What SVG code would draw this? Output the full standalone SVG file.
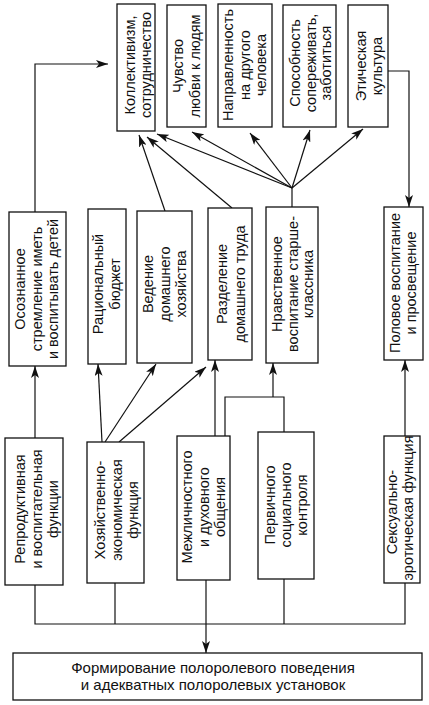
<svg xmlns="http://www.w3.org/2000/svg" width="429" height="705" viewBox="0 0 429 705">
<style>
.b{fill:#fff;stroke:#111;stroke-width:1.3}
.v{font-family:"Liberation Sans",Arial,sans-serif;font-size:14.5px;fill:#111;text-anchor:middle}
.h{font-family:"Liberation Sans",Arial,sans-serif;font-size:15px;fill:#111;text-anchor:middle}
.c{fill:none;stroke:#111;stroke-width:1.2}
.a{marker-end:url(#ah)}
</style>
<defs>
<marker id="ah" viewBox="0 0 12 8" refX="12" refY="4" markerWidth="12" markerHeight="8" markerUnits="userSpaceOnUse" orient="auto">
<path d="M0,0 L12,4 L0,8 L3,4 z" fill="#111"/>
</marker>
</defs>
<rect width="429" height="705" fill="#fff"/>

<g id="connectors">
<polyline class="c a" points="35,212 35,64 108,64"/>
<polyline class="c a" points="388,71 409,71 409,207"/>
<line class="c" x1="292" y1="207" x2="292" y2="188"/>
<line class="c a" x1="292" y1="188" x2="157" y2="134"/>
<line class="c a" x1="292" y1="188" x2="192" y2="132"/>
<line class="c a" x1="292" y1="188" x2="250" y2="133"/>
<line class="c a" x1="292" y1="188" x2="310" y2="130"/>
<line class="c a" x1="292" y1="188" x2="363" y2="129"/>
<line class="c a" x1="165" y1="211" x2="139" y2="135"/>
<line class="c a" x1="232" y1="208" x2="147" y2="137"/>
<line class="c a" x1="35" y1="438" x2="35" y2="366"/>
<line class="c a" x1="102" y1="442" x2="98" y2="364"/>
<line class="c a" x1="105" y1="442" x2="156" y2="364"/>
<line class="c a" x1="119" y1="442" x2="206" y2="367"/>
<line class="c a" x1="215" y1="436" x2="215" y2="360"/>
<polyline class="c" points="225,436 225,397 284,397 284,432"/>
<line class="c a" x1="273" y1="397" x2="273" y2="363"/>
<line class="c a" x1="405" y1="436" x2="405" y2="360"/>
<polyline class="c" points="35,585 35,624 405,624 405,583"/>
<line class="c" x1="115" y1="583" x2="115" y2="624"/>
<line class="c" x1="284" y1="579" x2="284" y2="624"/>
<line class="c a" x1="206" y1="580" x2="206" y2="653"/>
</g>

<g id="n-kollektivizm">
<rect class="b" x="117" y="4" width="38" height="127"/>
<text class="v" transform="translate(0,65) rotate(-90)"><tspan x="0" y="135">Коллективизм,</tspan><tspan x="0" y="151">сотрудничество</tspan></text>
</g>
<g id="n-chuvstvo">
<rect class="b" x="167" y="5" width="39" height="122"/>
<text class="v" transform="translate(0,66) rotate(-90)"><tspan x="0" y="183">Чувство</tspan><tspan x="0" y="200">любви к людям</tspan></text>
</g>
<g id="n-napravlennost">
<rect class="b" x="218" y="4" width="54" height="123"/>
<text class="v" transform="translate(0,65) rotate(-90)"><tspan x="0" y="233">Направленность</tspan><tspan x="0" y="250">на другого</tspan><tspan x="0" y="266">человека</tspan></text>
</g>
<g id="n-sposobnost">
<rect class="b" x="283" y="5" width="53" height="122"/>
<text class="v" transform="translate(0,63) rotate(-90)"><tspan x="0" y="300">Способность</tspan><tspan x="0" y="316">сопереживать,</tspan><tspan x="0" y="331">заботиться</tspan></text>
</g>
<g id="n-etika">
<rect class="b" x="348" y="5" width="40" height="122"/>
<text class="v" transform="translate(0,66) rotate(-90)"><tspan x="0" y="366">Этическая</tspan><tspan x="0" y="382">культура</tspan></text>
</g>

<g id="n-osoznannoe">
<rect class="b" x="9" y="212" width="57" height="154"/>
<text class="v" transform="translate(0,289) rotate(-90)"><tspan x="0" y="25">Осознанное</tspan><tspan x="0" y="41.5">стремление иметь</tspan><tspan x="0" y="58">и воспитывать детей</tspan></text>
</g>
<g id="n-byudzhet">
<rect class="b" x="88" y="209" width="38" height="155"/>
<text class="v" transform="translate(0,284) rotate(-90)"><tspan x="0" y="103">Рациональный</tspan><tspan x="0" y="120">бюджет</tspan></text>
</g>
<g id="n-vedenie">
<rect class="b" x="137" y="211" width="55" height="152"/>
<text class="v" transform="translate(0,284) rotate(-90)"><tspan x="0" y="153">Ведение</tspan><tspan x="0" y="170">домашнего</tspan><tspan x="0" y="186">хозяйства</tspan></text>
</g>
<g id="n-razdelenie">
<rect class="b" x="208" y="208" width="44" height="152"/>
<text class="v" transform="translate(0,284) rotate(-90)"><tspan x="0" y="227">Разделение</tspan><tspan x="0" y="245">домашнего труда</tspan></text>
</g>
<g id="n-nravstvennoe">
<rect class="b" x="266" y="207" width="52" height="156"/>
<text class="v" transform="translate(0,284) rotate(-90)"><tspan x="0" y="282">Нравственное</tspan><tspan x="0" y="297.5">воспитание старше-</tspan><tspan x="0" y="313">классника</tspan></text>
</g>
<g id="n-polovoe">
<rect class="b" x="384" y="207" width="39" height="153"/>
<text class="v" transform="translate(0,283) rotate(-90)"><tspan x="0" y="400">Половое воспитание</tspan><tspan x="0" y="416">и просвещение</tspan></text>
</g>

<g id="n-reproduktivnaya">
<rect class="b" x="5" y="438" width="58" height="147"/>
<text class="v" transform="translate(0,509) rotate(-90)"><tspan x="0" y="25">Репродуктивная</tspan><tspan x="0" y="41.5">и воспитательная</tspan><tspan x="0" y="58">функции</tspan></text>
</g>
<g id="n-khozyaystvenno">
<rect class="b" x="87" y="442" width="57" height="141"/>
<text class="v" transform="translate(0,510) rotate(-90)"><tspan x="0" y="105">Хозяйственно-</tspan><tspan x="0" y="121.5">экономическая</tspan><tspan x="0" y="138">функция</tspan></text>
</g>
<g id="n-mezhlichnostnogo">
<rect class="b" x="177" y="436" width="53" height="144"/>
<text class="v" transform="translate(0,507) rotate(-90)"><tspan x="0" y="192">Межличностного</tspan><tspan x="0" y="208.5">и духовного</tspan><tspan x="0" y="225">общения</tspan></text>
</g>
<g id="n-pervichnogo">
<rect class="b" x="258" y="432" width="56" height="147"/>
<text class="v" transform="translate(0,505) rotate(-90)"><tspan x="0" y="275">Первичного</tspan><tspan x="0" y="291">социального</tspan><tspan x="0" y="307">контроля</tspan></text>
</g>
<g id="n-seksualno">
<rect class="b" x="384" y="436" width="36" height="147"/>
<text class="v" transform="translate(0,512) rotate(-90)"><tspan x="0" y="397">Сексуально-</tspan></text>
<text class="v" transform="translate(0,508) rotate(-90)"><tspan x="0" y="413">эротическая функция</tspan></text>
</g>

<g id="n-formirovanie">
<rect class="b" x="13" y="653" width="409" height="47"/>
<text class="h" x="213" y="673">Формирование полоролевого поведения</text>
<text class="h" x="213" y="690">и адекватных полоролевых установок</text>
</g>
</svg>
